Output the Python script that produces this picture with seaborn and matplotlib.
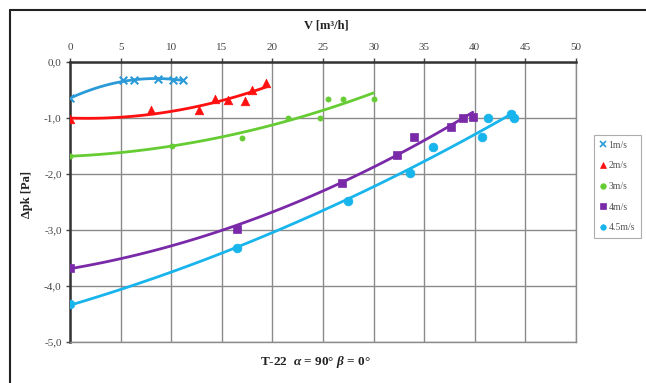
import numpy as np
import pandas as pd
import matplotlib
matplotlib.use("Agg")
import matplotlib.pyplot as plt
import seaborn as sns
from matplotlib.lines import Line2D
from matplotlib.ticker import FuncFormatter

# ---- data ----
labels = ["1m/s", "2m/s", "3m/s", "4m/s", "4.5m/s"]
v_1 = [0, 5.2, 6.3, 8.7, 10.2, 11.2]
dp_1 = [-0.65, -0.33, -0.33, -0.30, -0.32, -0.32]
v_2 = [0, 8.0, 12.7, 14.3, 15.6, 17.3, 18.0, 19.4]
dp_2 = [-1.02, -0.86, -0.86, -0.66, -0.68, -0.70, -0.50, -0.37]
v_3 = [0, 10.1, 17.0, 21.5, 24.7, 25.5, 27.0, 30.0]
dp_3 = [-1.67, -1.50, -1.35, -1.00, -1.00, -0.66, -0.66, -0.66]
v_4 = [0, 16.5, 26.9, 32.3, 34.0, 37.6, 38.8, 39.8]
dp_4 = [-3.67, -2.98, -2.16, -1.66, -1.34, -1.16, -1.00, -0.98]
v_45 = [0, 16.5, 27.5, 33.6, 35.9, 40.7, 41.3, 43.6, 43.9]
dp_45 = [-4.33, -3.33, -2.48, -1.98, -1.51, -1.34, -1.00, -0.93, -1.00]

x_ticks = [0, 5, 10, 15, 20, 25, 30, 35, 40, 45, 50]
y_ticks = [0.0, -1.0, -2.0, -3.0, -4.0, -5.0]

series = [(v_1, dp_1), (v_2, dp_2), (v_3, dp_3), (v_4, dp_4), (v_45, dp_45)]
colors = ["#2A9AD8", "#FF1010", "#66CC33", "#7A2AA8", "#18B4EC"]
markers = ["x", "^", "o", "s", "o"]
msizes = [30, 38, 14, 40, 40]

sns.set_theme(style="white")
plt.rcParams["font.family"] = ["Liberation Serif", "DejaVu Serif"]
plt.rcParams["mathtext.fontset"] = "custom"
plt.rcParams["mathtext.it"] = "Liberation Serif:italic:bold"
plt.rcParams["mathtext.rm"] = "Liberation Serif:bold"

fig = plt.figure(figsize=(6.46, 3.83), dpi=100)
W, H = 646, 383
ax = fig.add_axes([70 / W, 1 - 342 / H, (576 - 70) / W, (342 - 62) / H])

for (vx, vy), c, m, s, lab in zip(series, colors, markers, msizes, labels):
    df = pd.DataFrame({"V": vx, "dp": vy})
    sns.regplot(data=df, x="V", y="dp", order=2, ci=None, truncate=True,
                scatter=False, ax=ax, color=c, line_kws={"lw": 2.0})
    if m == "x":
        sns.scatterplot(data=df, x="V", y="dp", ax=ax, color=c, marker=m,
                        s=s, linewidth=1.5, zorder=4)
    else:
        sns.scatterplot(data=df, x="V", y="dp", ax=ax, color=c, marker=m,
                        s=s, edgecolor=c, linewidth=0.5, zorder=4)

ax.set_xlim(0, 50)
ax.set_ylim(-5.0, 0.0)
ax.set_xticks(x_ticks)
ax.set_yticks(y_ticks)
ax.xaxis.tick_top()
ax.xaxis.set_label_position("top")
ax.yaxis.set_major_formatter(FuncFormatter(lambda v, p: f"{v:.1f}".replace(".", ",")))
ax.tick_params(axis="both", labelsize=8, colors="#444444", length=3, width=1)
ax.tick_params(axis="x", top=True, bottom=False, pad=4)
ax.tick_params(axis="y", left=True, pad=3)
ax.grid(True, color="#8a8a8a", lw=1.0)
ax.set_axisbelow(True)
for side in ["bottom", "right"]:
    ax.spines[side].set_color("#8a8a8a")
    ax.spines[side].set_linewidth(1.0)
for side in ["left", "top"]:
    ax.spines[side].set_color("#333333")
    ax.spines[side].set_linewidth(1.8)

ax.set_xlabel("")
ax.set_ylabel("")
fig.text(326 / W, 1 - 26 / H, "V [m³/h]", ha="center", va="center",
         fontsize=9, fontweight="bold", color="#222222")
fig.text(27 / W, 1 - 195 / H, "Δpk [Pa]", ha="center", va="center",
         rotation=90, fontsize=9, fontweight="bold", color="#222222")
fig.text(315 / W, 1 - 362 / H, r"T-22  $\alpha$ = 90° $\beta$ = 0°", ha="center",
         va="center", fontsize=9.5, fontweight="bold", color="#222222")

# legend
handles = []
for c, m, lab in zip(colors, markers, labels):
    handles.append(Line2D([], [], ls="none", marker=m, color=c, markersize=4,
                          markeredgewidth=1.2 if m == "x" else 0.5, label=lab))
leg = fig.legend(handles=handles, loc="upper left",
                 bbox_to_anchor=(589 / W, 1 - 130 / H), fontsize=7,
                 frameon=True, fancybox=False, edgecolor="#999999",
                 handlelength=0.6, handletextpad=0.3, labelspacing=1.2,
                 borderpad=0.6, labelcolor="#555555")
leg.get_frame().set_linewidth(0.8)

# outer frame (cropped on right and bottom)
fig.add_artist(Line2D([10 / W, 10 / W], [0, 1 - 10 / H], color="#222222", lw=1.5))
fig.add_artist(Line2D([10 / W, 1], [1 - 10 / H, 1 - 10 / H], color="#222222", lw=1.5))

fig.savefig("out.png", dpi=100)
